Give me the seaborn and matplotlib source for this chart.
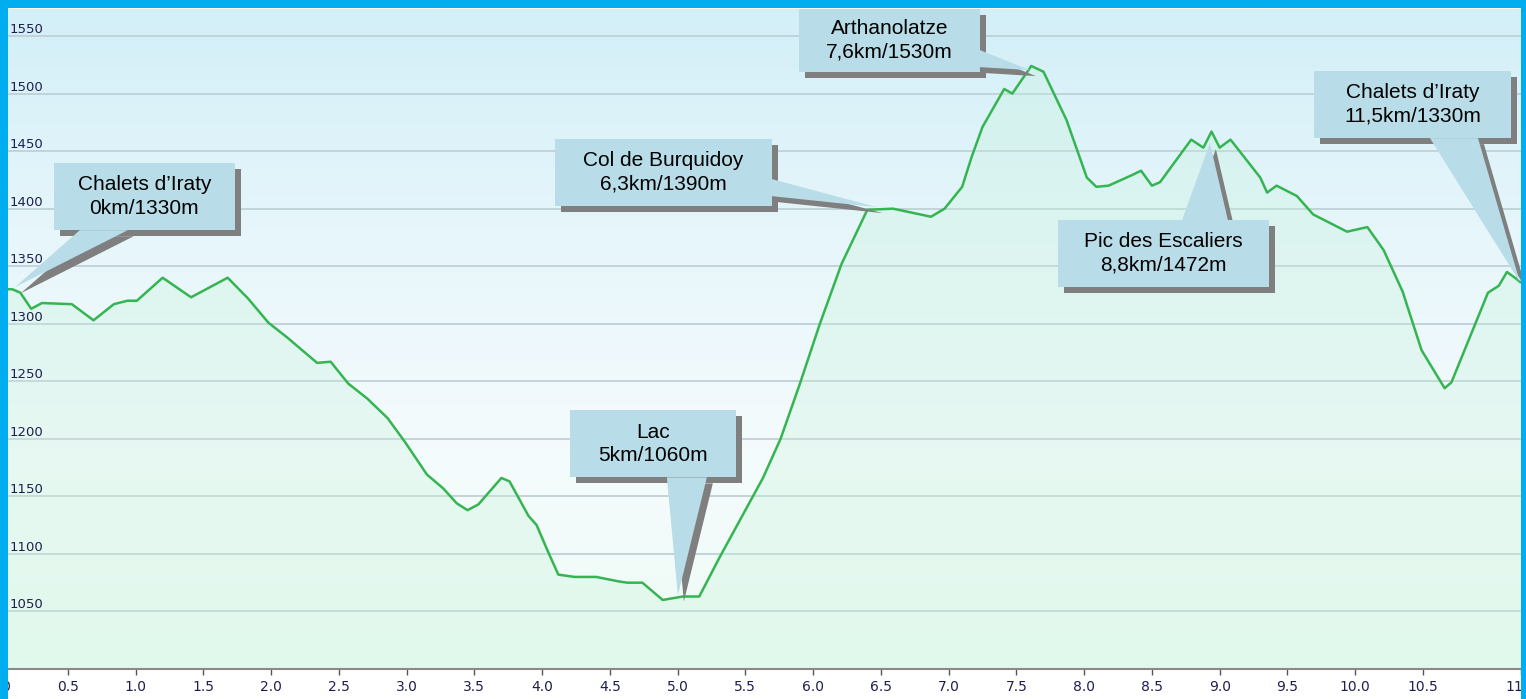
import matplotlib
matplotlib.use('Agg')
import matplotlib.pyplot as plt
import matplotlib.transforms as mtransforms
from matplotlib.colors import LinearSegmentedColormap
from matplotlib.patches import Rectangle, Polygon
import numpy as np
import seaborn as sns

# profil altimétrique (km, m)
km = [0.00, 0.09, 0.15, 0.23, 0.31, 0.53, 0.69, 0.84, 0.94, 1.01,
      1.20, 1.41, 1.68, 1.83, 1.98, 2.12, 2.34, 2.44, 2.57, 2.71,
      2.86, 2.99, 3.15, 3.27, 3.37, 3.45, 3.53, 3.70, 3.76, 3.90,
      3.96, 4.04, 4.12, 4.24, 4.40, 4.57, 4.63, 4.74, 4.89, 5.04,
      5.16, 5.31, 5.63, 5.76, 5.90, 6.05, 6.21, 6.40, 6.59, 6.87,
      6.97, 7.10, 7.17, 7.25, 7.41, 7.47, 7.61, 7.70, 7.87, 8.02,
      8.09, 8.18, 8.35, 8.42, 8.50, 8.56, 8.79, 8.88, 8.94, 9.00,
      9.08, 9.30, 9.35, 9.42, 9.57, 9.69, 9.94, 10.09, 10.21, 10.35,
      10.49, 10.66, 10.71, 10.98, 11.06, 11.12, 11.19, 11.22]
alt = [1330, 1330, 1327, 1313, 1318, 1317, 1303, 1317, 1320, 1320,
       1340, 1323, 1340, 1322, 1301, 1288, 1266, 1267, 1248, 1235,
       1218, 1197, 1169, 1157, 1144, 1138, 1143, 1166, 1163, 1133,
       1125, 1103, 1082, 1080, 1080, 1076, 1075, 1075, 1060, 1063,
       1063, 1097, 1166, 1200, 1247, 1300, 1352, 1399, 1400, 1393,
       1400, 1419, 1445, 1471, 1504, 1500, 1524, 1519, 1477, 1427,
       1419, 1420, 1429, 1433, 1420, 1423, 1460, 1453, 1467, 1453,
       1460, 1427, 1414, 1420, 1411, 1395, 1380, 1384, 1364, 1328,
       1277, 1244, 1249, 1327, 1333, 1345, 1339, 1336]

y_ticks = [1050, 1100, 1150, 1200, 1250, 1300, 1350, 1400, 1450, 1500, 1550]
x_ticks = [0.0, 0.5, 1.0, 1.5, 2.0, 2.5, 3.0, 3.5, 4.0, 4.5, 5.0,
           5.5, 6.0, 6.5, 7.0, 7.5, 8.0, 8.5, 9.0, 9.5, 10.0, 10.5, 11.22]
x_labels = ['0.0', '0.5', '1.0', '1.5', '2.0', '2.5', '3.0', '3.5', '4.0', '4.5', '5.0',
            '5.5', '6.0', '6.5', '7.0', '7.5', '8.0', '8.5', '9.0', '9.5', '10.0', '10.5', '11.2']

labels = ['Chalets d’Iraty\n0km/1330m',
          'Col de Burquidoy\n6,3km/1390m',
          'Lac\n5km/1060m',
          'Arthanolatze\n7,6km/1530m',
          'Pic des Escaliers\n8,8km/1472m',
          'Chalets d’Iraty\n11,5km/1330m']

# bulles : (x0, x1, y0, y1), base de la pointe, pointe
bulles = [
    ((0.397, 1.733, 1381.3, 1439.6), [(0.589, 1381.3), (0.943, 1381.3)], (0.109, 1331.7)),
    ((4.094, 5.696, 1402.2, 1460.4), [(5.696, 1425.7), (5.696, 1410.9)], (6.470, 1401.3)),
    ((4.205, 5.430, 1166.5, 1224.8), [(4.921, 1166.5), (5.216, 1166.5)], (5.002, 1063.9)),
    ((5.895, 7.231, 1518.7, 1573.5), [(7.231, 1537.8), (7.231, 1523.0)], (7.600, 1520.4)),
    ((7.806, 9.364, 1331.7, 1390.0), [(8.722, 1390.0), (9.061, 1390.0)], (8.928, 1457.0)),
    ((9.696, 11.149, 1461.3, 1519.6), [(10.552, 1461.3), (10.906, 1461.3)], (11.216, 1336.0)),
]

sns.set_style('white')
plt.rcParams['font.family'] = ['DejaVu Sans']

W, H = 1526, 699
fig = plt.figure(figsize=(W / 100, H / 100), dpi=100)
ax = fig.add_axes([0, 30 / H, 1520.5 / W, 660 / H])
xmax, ymin, ymax = 11.22, 1000, 1573.5
ax.set_xlim(0, xmax)
ax.set_ylim(ymin, ymax)

# fond dégradé
bg = LinearSegmentedColormap.from_list('bg', ['#eefcf5', '#f5fbfd', '#e6f6fb', '#d3eff8'])
grad = np.linspace(0, 1, 256).reshape(-1, 1)
ax.imshow(grad, cmap=bg, origin='lower', extent=[0, xmax, ymin, ymax],
          aspect='auto', zorder=-2)

ax.fill_between(km, alt, ymin, color='#c6f2d9', alpha=0.3, lw=0, zorder=1)
sns.lineplot(x=km, y=alt, color='#35b552', linewidth=1.8, estimator=None,
             sort=False, ax=ax, zorder=3)

ax.set_yticks(y_ticks)
ax.yaxis.grid(True, color='#bfd0d6', linewidth=1.3)
ax.xaxis.grid(False)
ax.tick_params(axis='y', length=0, labelleft=False)
lab_tr = mtransforms.blended_transform_factory(ax.transAxes, ax.transData)
for v in y_ticks:
    ax.text(10 / 1520.5, v, str(v), transform=lab_tr, ha='left', va='bottom',
            fontsize=9.5, color='#1f1f4f')

ax.set_xticks(x_ticks)
ax.set_xticklabels(x_labels)
ax.tick_params(axis='x', direction='out', length=4, width=1, color='#555555',
               labelsize=10, labelcolor='#1f1f4f', pad=4, bottom=True)
for s in ['top', 'left', 'right']:
    ax.spines[s].set_visible(False)
ax.spines['bottom'].set_color('#8a8a8a')
ax.spines['bottom'].set_linewidth(1.5)
ax.set_xlabel('')
ax.set_ylabel('')

# bulles avec ombre
shadow_tr = mtransforms.offset_copy(ax.transData, fig=fig, x=6, y=-6, units='dots')
for txt, (box, base, tip) in zip(labels, bulles):
    x0, x1, y0, y1 = box
    for tr, col, z in [(shadow_tr, '#7f7f7f', 5), (ax.transData, '#b8dde8', 6)]:
        ax.add_patch(Rectangle((x0, y0), x1 - x0, y1 - y0, transform=tr, facecolor=col,
                               lw=0, zorder=z, clip_on=False))
        ax.add_patch(Polygon([base[0], base[1], tip], closed=True, transform=tr,
                             facecolor=col, lw=0, zorder=z, clip_on=False))
    ax.text((x0 + x1) / 2, (y0 + y1) / 2, txt, ha='center', va='center', fontsize=15,
            family=['Liberation Sans', 'DejaVu Sans'], color='black', zorder=7,
            linespacing=1.3)

# cadre bleu
blue = '#00aeef'
fig.add_artist(Rectangle((0, 0), 8 / W, 1, transform=fig.transFigure, facecolor=blue, lw=0, zorder=20))
fig.add_artist(Rectangle((0, (H - 8) / H), 1, 8 / H, transform=fig.transFigure, facecolor=blue, lw=0, zorder=20))
fig.add_artist(Rectangle((1520.5 / W, 0), 6 / W, 1, transform=fig.transFigure, facecolor=blue, lw=0, zorder=20))

fig.savefig('out.png', dpi=100, facecolor='white')
